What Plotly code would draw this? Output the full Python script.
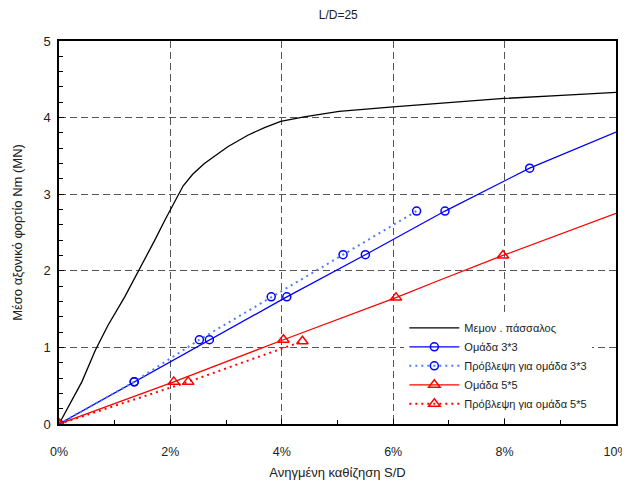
import plotly.graph_objects as go

# ---- data (S/D in %, load in MN) ----
single_x = [0, 0.41, 0.65, 0.88, 1.18, 1.42, 1.72, 1.90, 2.01, 2.23, 2.40, 2.61, 3.03, 3.39, 3.69, 3.98, 4.40, 5.03, 6.00, 7.05, 7.99, 9.02, 10.0]
single_y = [0, 0.55, 0.96, 1.29, 1.66, 1.98, 2.40, 2.66, 2.81, 3.11, 3.26, 3.40, 3.62, 3.77, 3.87, 3.95, 4.01, 4.08, 4.14, 4.20, 4.25, 4.29, 4.33]

g33_x = [0, 1.35, 2.70, 4.09, 5.50, 6.93, 8.45, 8.85, 10.0]
g33_y = [0, 0.55, 1.10, 1.66, 2.21, 2.78, 3.34, 3.46, 3.81]
g33_mark = [1, 1, 1, 1, 1, 1, 1, 0, 0]

p33_x = [0, 1.35, 2.52, 3.81, 5.10, 6.42]
p33_y = [0, 0.55, 1.10, 1.66, 2.21, 2.78]

g55_x = [0, 2.06, 4.03, 6.05, 6.84, 7.97, 10.0]
g55_y = [0, 0.55, 1.10, 1.65, 1.88, 2.20, 2.75]
g55_mark = [1, 1, 1, 1, 0, 1, 0]

p55_x = [0, 2.32, 4.37]
p55_y = [0, 0.55, 1.08]

names = ["Μεμον . πάσσαλος", "Ομάδα 3*3", "Πρόβλεψη για ομάδα 3*3",
         "Ομάδα 5*5", "Πρόβλεψη για ομάδα 5*5"]

x_ticks = [0, 2, 4, 6, 8, 10]


def mcolors(flags, c):
    return [c if f else "rgba(0,0,0,0)" for f in flags]


fig = go.Figure()
fig.add_trace(go.Scatter(x=single_x, y=single_y, mode="lines", name=names[0],
                         line=dict(color="black", width=1.3)))
fig.add_trace(go.Scatter(x=g33_x, y=g33_y, mode="lines+markers", name=names[1],
                         line=dict(color="#0000ff", width=1.3),
                         marker=dict(symbol="circle-open", size=8,
                                     color=mcolors(g33_mark, "#0000ff"),
                                     line=dict(width=1.5))))
fig.add_trace(go.Scatter(x=p33_x, y=p33_y, mode="lines+markers", name=names[2],
                         line=dict(color="#4d7dff", width=2, dash="2px,4px"),
                         marker=dict(symbol="circle-open", size=8, color="#0000ff",
                                     line=dict(width=1.5))))
fig.add_trace(go.Scatter(x=g55_x, y=g55_y, mode="lines+markers", name=names[3],
                         line=dict(color="#ff0000", width=1.3),
                         marker=dict(symbol="triangle-up-open", size=10,
                                     color=mcolors(g55_mark, "#ff0000"),
                                     line=dict(width=1.5))))
fig.add_trace(go.Scatter(x=p55_x, y=p55_y, mode="lines+markers", name=names[4],
                         line=dict(color="#ff0000", width=2, dash="2px,4px"),
                         marker=dict(symbol="triangle-up-open", size=10, color="#ff0000",
                                     line=dict(width=1.5))))

# The page body has an 8px default margin, so the figure is 8px smaller
# than the window and its margins are offset accordingly.
font = "Arial, Liberation Sans, sans-serif"
fig.update_layout(
    width=622, height=473,
    margin=dict(l=51, r=14, t=33, b=57),
    paper_bgcolor="white", plot_bgcolor="white",
    font=dict(family=font, size=13, color="#222222"),
    title=dict(text="L/D=25", x=0.531, xanchor="center", y=0.986, yanchor="middle",
               font=dict(size=12, color="#222222")),
    showlegend=True,
    legend=dict(x=0.62, y=0.289, xanchor="left", yanchor="top",
                bgcolor="white", borderwidth=0, itemwidth=50,
                font=dict(size=11, color="#222222"), tracegroupgap=0),
    xaxis=dict(range=[0, 10], tickvals=x_ticks, ticktext=[f"{v}%" for v in x_ticks],
               automargin=False, ticklabeloverflow="allow", tickfont=dict(size=12.5),
               showgrid=True, gridcolor="#555555", gridwidth=1, griddash="7px,4px",
               zeroline=False, showline=True, linecolor="black", linewidth=1.5,
               mirror=True, ticks="inside", ticklen=5, tickcolor="black",
               ticklabelstandoff=15,
               minor=dict(dtick=1, ticks="inside", ticklen=4, tickcolor="black", showgrid=False),
               title=dict(text="Ανηγμένη καθίζηση S/D", font=dict(size=13), standoff=10)),
    yaxis=dict(range=[0, 5], dtick=1, automargin=False, ticklabeloverflow="allow",
               showgrid=True, gridcolor="#555555", gridwidth=1, griddash="7px,4px",
               zeroline=False, showline=True, linecolor="black", linewidth=1.5,
               mirror=True, ticks="inside", ticklen=5, tickcolor="black",
               ticklabelstandoff=4,
               minor=dict(dtick=0.2, ticks="inside", ticklen=4, tickcolor="black", showgrid=False),
               title=dict(text="Μέσο αξονικό φορτίο Nm (MN)", font=dict(size=13), standoff=18)),
)

fig.write_html("out.html")
